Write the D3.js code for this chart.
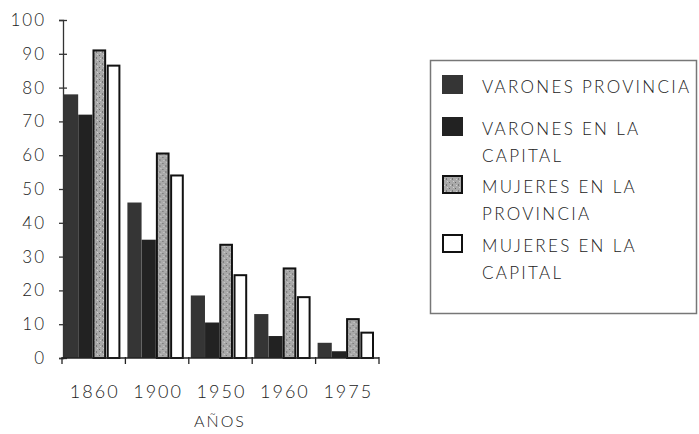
<!DOCTYPE html>
<html>
<head>
<meta charset="utf-8">
<script src="https://cdn.jsdelivr.net/npm/d3@7"></script>
<style>
  body { margin: 0; background: #fff; }
  svg { display: block; }
  text { font-family: "Lato", "DejaVu Sans", sans-serif; font-weight: 300; fill: #222; }
</style>
</head>
<body>
<svg id="chart" width="699" height="434"></svg>
<script>
// datos
const years = ["1860", "1900", "1950", "1960", "1975"];
const seriesKeys = ["vp", "vc", "mp", "mc"];
const varonesProvincia = [78, 46, 18.5, 13, 4.5];
const varonesCapital   = [72, 35, 10.5, 6.5, 2];
const mujeresProvincia = [91, 60.5, 33.5, 26.5, 11.5];
const mujeresCapital   = [86.5, 54, 24.5, 18, 7.5];
const yTicks = [0, 10, 20, 30, 40, 50, 60, 70, 80, 90, 100];
const legendLabels = [
  ["VARONES PROVINCIA"],
  ["VARONES EN LA", "CAPITAL"],
  ["MUJERES EN LA", "PROVINCIA"],
  ["MUJERES EN LA", "CAPITAL"]
];

const values = { vp: varonesProvincia, vc: varonesCapital, mp: mujeresProvincia, mc: mujeresCapital };

const svg = d3.select("#chart");

// pattern for the stippled grey bars
const defs = svg.append("defs");
const pat = defs.append("pattern")
  .attr("id", "stipple")
  .attr("width", 6).attr("height", 6)
  .attr("patternUnits", "userSpaceOnUse");
pat.append("rect").attr("width", 6).attr("height", 6).attr("fill", "#a9a9a9");
pat.append("rect").attr("x", 1).attr("y", 1).attr("width", 1).attr("height", 1).attr("fill", "#666");
pat.append("rect").attr("x", 4).attr("y", 3).attr("width", 1).attr("height", 2).attr("fill", "#777");
pat.append("rect").attr("x", 2).attr("y", 4).attr("width", 1).attr("height", 1).attr("fill", "#d0d0d0");
pat.append("rect").attr("x", 5).attr("y", 0).attr("width", 1).attr("height", 1).attr("fill", "#cfcfcf");

const styles = {
  vp: { fill: "#353535", stroke: "none" },
  vc: { fill: "#222", stroke: "none" },
  mp: { fill: "url(#stipple)", stroke: "#111" },
  mc: { fill: "#fff", stroke: "#111" }
};

const x = d3.scaleBand().domain(years).range([62, 379]).padding(0);
const xInner = d3.scaleBand().domain(seriesKeys).range([2, x.bandwidth() - 5]).paddingInner(0.04);
const y = d3.scaleLinear().domain([0, 100]).range([358, 20]);

// bars
const groups = svg.append("g").selectAll("g")
  .data(years)
  .join("g")
  .attr("transform", d => "translate(" + x(d) + ",0)");

groups.selectAll("rect")
  .data((d, i) => seriesKeys.map(k => ({ key: k, value: values[k][i] })))
  .join("rect")
  .attr("x", d => xInner(d.key) + (styles[d.key].stroke === "none" ? 0 : 1))
  .attr("width", d => xInner.bandwidth() - (styles[d.key].stroke === "none" ? -0.5 : 2))
  .attr("y", d => y(d.value))
  .attr("height", d => y(0) - y(d.value))
  .attr("fill", d => styles[d.key].fill)
  .attr("stroke", d => styles[d.key].stroke)
  .attr("stroke-width", 2);

// y axis
const yAxis = svg.append("g")
  .attr("transform", "translate(63,0)")
  .call(d3.axisLeft(y).tickValues(yTicks).tickSize(4).tickPadding(13));
yAxis.select(".domain").attr("stroke", "#333").attr("stroke-width", 1.3);
yAxis.selectAll(".tick line").attr("x1", -4).attr("x2", 4).attr("stroke", "#333").attr("stroke-width", 1.3);
yAxis.selectAll(".tick text")
  .attr("font-size", 17)
  .attr("font-family", "Lato, sans-serif")
  .attr("font-weight", 300)
  .attr("fill", "#333")
  .style("letter-spacing", "2px");

// x axis line and boundary ticks
svg.append("line")
  .attr("x1", x.range()[0]).attr("x2", x.range()[1])
  .attr("y1", y(0)).attr("y2", y(0))
  .attr("stroke", "#222").attr("stroke-width", 1.6);
svg.append("g").selectAll("line")
  .data(years.map(d => x(d)).concat([x.range()[1]]))
  .join("line")
  .attr("x1", d => d).attr("x2", d => d)
  .attr("y1", y(0) - 1).attr("y2", y(0) + 6)
  .attr("stroke", "#222").attr("stroke-width", 1.3);

svg.append("g").selectAll("text")
  .data(years)
  .join("text")
  .attr("x", d => x(d) + x.bandwidth() / 2 + 1)
  .attr("y", 398)
  .attr("text-anchor", "middle")
  .attr("font-size", 18)
  .style("letter-spacing", "2px")
  .text(d => d);

svg.append("text")
  .attr("x", 220).attr("y", 427)
  .attr("text-anchor", "middle")
  .attr("font-size", 16)
  .attr("fill", "#555")
  .style("letter-spacing", "2px")
  .text("AÑOS");

// legend
const legend = svg.append("g");
legend.append("rect")
  .attr("x", 430.5).attr("y", 60.5)
  .attr("width", 266).attr("height", 253)
  .attr("fill", "none").attr("stroke", "#777").attr("stroke-width", 1.5);

const legendRows = [75, 117, 175, 234];
const items = legend.selectAll("g.item")
  .data(seriesKeys)
  .join("g")
  .attr("class", "item")
  .attr("transform", (d, i) => "translate(442," + legendRows[i] + ")");

items.append("rect")
  .attr("x", 1).attr("y", 1)
  .attr("width", 19).attr("height", 17)
  .attr("fill", d => styles[d].fill)
  .attr("stroke", d => d === "vp" || d === "vc" ? styles[d].fill : "#111")
  .attr("stroke-width", 2);

items.each(function (d, i) {
  const g = d3.select(this);
  legendLabels[i].forEach((line, j) => {
    g.append("text")
      .attr("x", 40)
      .attr("y", 18 + j * 27)
      .attr("font-size", 17)
      .style("letter-spacing", "2.3px")
      .text(line);
  });
});
</script>
</body>
</html>
